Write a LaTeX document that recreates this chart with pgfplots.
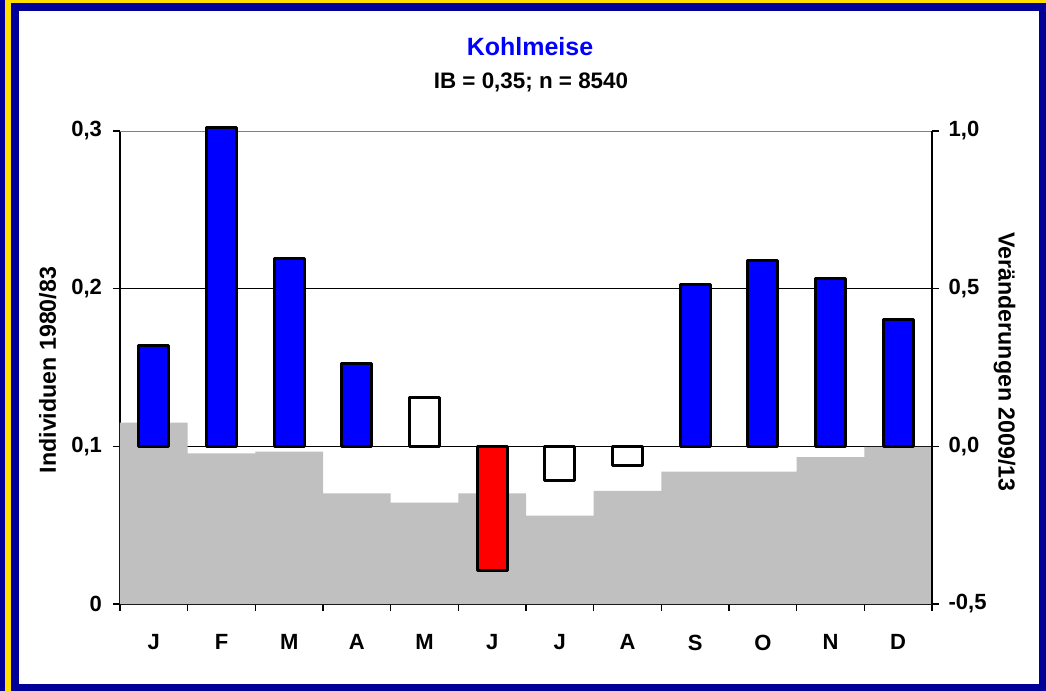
\documentclass[border=0pt]{standalone}
\usepackage{fontspec}
\setmainfont{Liberation Sans}
\usepackage{pgfplots}
\pgfplotsset{compat=1.18}
\definecolor{navy}{RGB}{0,0,153}
\definecolor{gold}{RGB}{255,221,0}
\definecolor{barblue}{RGB}{0,0,255}
\definecolor{areagray}{RGB}{192,192,192}
\begin{document}
\begin{tikzpicture}
\useasboundingbox (0,0) rectangle (523pt,-345.5pt);
\fill[navy] (0,0) rectangle (523pt,-345.5pt);
\fill[gold] (2.5pt,0) rectangle (523pt,-345.5pt);
\fill[navy] (5.5pt,-1.25pt) rectangle (523pt,-345.5pt);
\fill[white] (9.5pt,-5.5pt) rectangle (519.5pt,-342.2pt);

\node[anchor=base, text=barblue, font=\fontsize{12.5}{15}\selectfont\bfseries] at (265pt,-27.5pt) {Kohlmeise};
\node[anchor=base, font=\fontsize{11.2}{13}\selectfont\bfseries] at (265.5pt,-44pt) {IB = 0,35; n = 8540};
\node[rotate=90, font=\fontsize{11.6}{14}\selectfont\bfseries] at (23.9pt,-185pt) {Individuen 1980/83};
\node[rotate=-90, font=\fontsize{11.6}{14}\selectfont\bfseries] at (502.3pt,-181pt) {Veränderungen 2009/13};

\begin{axis}[
  at={(60pt,-302pt)}, anchor=south west,
  scale only axis, width=406pt, height=236.5pt,
  xmin=0, xmax=12, ymin=0, ymax=0.3,
  axis x line*=bottom, axis y line*=left,
  axis line style={black, line width=0.8pt},
  tick align=outside,
  major tick length=3.5pt,
  tick style={black, line width=0.8pt},
  xtick={0,1,...,12},
  xticklabels={J,F,M,A,M,J,J,A,S,O,N,D,{}},
  xticklabel style={xshift=16.92pt, yshift=-8.3pt},
  ytick={0,0.1,0.2,0.3},
  yticklabels={0,{0,1},{0,2},{0,3}},
  yticklabel style={xshift=-2pt},
  ymajorgrids, grid style={black, line width=0.5pt},
  every tick label/.append style={font=\fontsize{11}{13}\selectfont\bfseries},
]
\addplot[fill=areagray, draw=none, const plot] coordinates {
(0,0.115) (1,0.0955) (2,0.0966) (3,0.0702) (4,0.0643) (5,0.0702)
(6,0.056) (7,0.0717) (8,0.084) (9,0.084) (10,0.0932) (11,0.0997) (12,0.0997)
} \closedcycle;
\draw[gray, line width=0.8pt] (rel axis cs:0,1) -- (rel axis cs:1,1);
\end{axis}

\begin{axis}[
  at={(60pt,-302pt)}, anchor=south west,
  scale only axis, width=406pt, height=236.5pt,
  xmin=0, xmax=12, ymin=-0.5, ymax=1,
  axis x line=none, axis y line*=right,
  axis line style={black, line width=0.8pt},
  tick align=outside,
  major tick length=3.5pt,
  tick style={black, line width=0.8pt},
  ytick={-0.5,0,0.5,1},
  yticklabels={{-0,5},{0,0},{0,5},{1,0}},
  yticklabel style={xshift=1.3pt},
  every tick label/.append style={font=\fontsize{11}{13}\selectfont\bfseries},
  clip=false,
  ybar, bar width=15.15pt,
]
\addplot[fill=barblue, draw=black, line width=1.5pt, line join=round, bar shift=0pt] coordinates {
(0.5,0.32) (1.5,1.01) (2.5,0.597) (3.5,0.263) (8.5,0.512) (9.5,0.589) (10.5,0.533) (11.5,0.403)};
\addplot[fill=white, draw=black, line width=1.5pt, line join=round, bar shift=0pt] coordinates {
(4.5,0.156) (6.5,-0.107) (7.5,-0.062)};
\addplot[fill=red, draw=black, line width=1.5pt, line join=round, bar shift=0pt] coordinates {
(5.5,-0.395)};
\end{axis}
\end{tikzpicture}
\end{document}
